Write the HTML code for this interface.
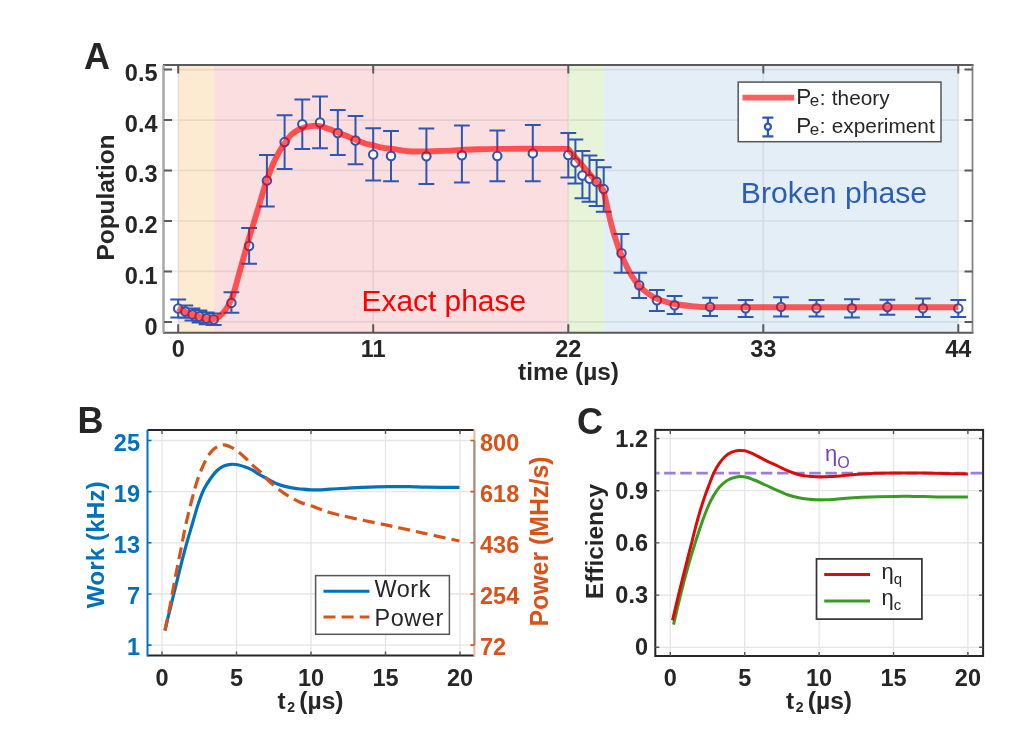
<!DOCTYPE html>
<html><head><meta charset="utf-8"><style>
html,body{margin:0;padding:0;background:#fff;}
svg{display:block;filter:blur(0.4px);}
text{font-family:"Liberation Sans", sans-serif;}
</style></head><body>
<svg width="1022" height="744" viewBox="0 0 1022 744">
<rect width="1022" height="744" fill="#fff"/>
<rect x="178.2" y="65.0" width="35.5" height="267.7" fill="#fcebd1"/>
<rect x="213.7" y="65.0" width="354.6" height="267.7" fill="#fbdee0"/>
<rect x="568.3" y="65.0" width="35.5" height="267.7" fill="#e7f4d8"/>
<rect x="603.7" y="65.0" width="354.6" height="267.7" fill="#e4eef6"/>
<path d="M178.2,65.0V332.7M373.2,65.0V332.7M568.3,65.0V332.7M763.3,65.0V332.7M958.3,65.0V332.7M164.0,321.9H972.5M164.0,271.4H972.5M164.0,221.0H972.5M164.0,170.5H972.5M164.0,120.1H972.5M164.0,69.6H972.5" stroke="#262626" stroke-opacity="0.085" stroke-width="1.6" fill="none"/>
<text x="443.8" y="310.5" font-size="29.9" fill="#ff0000" text-anchor="middle">Exact phase</text>
<text x="834" y="203" font-size="30.2" fill="#2c5fb4" text-anchor="middle">Broken phase</text>
<path d="M178.2,299.6V317.4M170.3,299.6H186.1M170.3,317.4H186.1M185.3,305.4V317.8M177.4,305.4H193.2M177.4,317.8H193.2M192.4,308.6V320.6M184.5,308.6H200.3M184.5,320.6H200.3M199.5,310.5V322.5M191.6,310.5H207.4M191.6,322.5H207.4M206.6,312.5V324.3M198.7,312.5H214.5M198.7,324.3H214.5M213.7,313.5V325.0M205.8,313.5H221.6M205.8,325.0H221.6M231.4,292.2V312.7M223.5,292.2H239.3M223.5,312.7H239.3M249.1,228.0V263.7M241.2,228.0H257.0M241.2,263.7H257.0M266.9,154.9V206.6M259.0,154.9H274.8M259.0,206.6H274.8M284.6,115.2V168.9M276.7,115.2H292.5M276.7,168.9H292.5M302.3,99.4V149.0M294.4,99.4H310.2M294.4,149.0H310.2M320.0,96.5V148.3M312.1,96.5H327.9M312.1,148.3H327.9M337.8,110.0V155.0M329.9,110.0H345.7M329.9,155.0H345.7M355.5,116.0V164.2M347.6,116.0H363.4M347.6,164.2H363.4M373.2,128.2V180.5M365.3,128.2H381.1M365.3,180.5H381.1M391.0,131.1V181.3M383.1,131.1H398.9M383.1,181.3H398.9M426.4,128.4V184.0M418.5,128.4H434.3M418.5,184.0H434.3M461.9,125.6V182.6M454.0,125.6H469.8M454.0,182.6H469.8M497.3,130.5V181.2M489.4,130.5H505.2M489.4,181.2H505.2M532.8,125.1V181.2M524.9,125.1H540.7M524.9,181.2H540.7M568.3,133.1V177.6M560.4,133.1H576.2M560.4,177.6H576.2M575.4,139.5V183.6M567.5,139.5H583.3M567.5,183.6H583.3M582.4,151.0V198.2M574.5,151.0H590.3M574.5,198.2H590.3M589.5,155.5V201.8M581.6,155.5H597.4M581.6,201.8H597.4M596.6,160.0V206.0M588.7,160.0H604.5M588.7,206.0H604.5M603.7,167.3V211.8M595.8,167.3H611.6M595.8,211.8H611.6M621.5,234.1V272.8M613.6,234.1H629.4M613.6,272.8H629.4M639.2,272.8V298.0M631.3,272.8H647.1M631.3,298.0H647.1M656.9,289.9V311.1M649.0,289.9H664.8M649.0,311.1H664.8M674.6,296.0V314.1M666.7,296.0H682.5M666.7,314.1H682.5M710.1,297.7V316.1M702.2,297.7H718.0M702.2,316.1H718.0M745.6,300.0V317.0M737.7,300.0H753.5M737.7,317.0H753.5M781.0,297.3V316.4M773.1,297.3H788.9M773.1,316.4H788.9M816.5,300.0V316.4M808.6,300.0H824.4M808.6,316.4H824.4M851.9,299.2V317.5M844.0,299.2H859.8M844.0,317.5H859.8M887.4,299.7V314.8M879.5,299.7H895.3M879.5,314.8H895.3M922.9,298.6V317.0M915.0,298.6H930.8M915.0,317.0H930.8M958.3,300.0V317.0M950.4,300.0H966.2M950.4,317.0H966.2" stroke="#2e56b2" stroke-width="2" fill="none"/>
<g fill="#fff" stroke="#2e56b2" stroke-width="2.1"><circle cx="178.2" cy="308.5" r="4.2"/><circle cx="185.3" cy="311.6" r="4.2"/><circle cx="192.4" cy="314.6" r="4.2"/><circle cx="199.5" cy="316.5" r="4.2"/><circle cx="206.6" cy="318.5" r="4.2"/><circle cx="213.7" cy="319.5" r="4.2"/><circle cx="231.4" cy="302.9" r="4.2"/><circle cx="249.1" cy="246.0" r="4.2"/><circle cx="266.9" cy="180.6" r="4.2"/><circle cx="284.6" cy="142.1" r="4.2"/><circle cx="302.3" cy="124.2" r="4.2"/><circle cx="320.0" cy="122.5" r="4.2"/><circle cx="337.8" cy="133.0" r="4.2"/><circle cx="355.5" cy="140.5" r="4.2"/><circle cx="373.2" cy="154.5" r="4.2"/><circle cx="391.0" cy="156.0" r="4.2"/><circle cx="426.4" cy="156.3" r="4.2"/><circle cx="461.9" cy="155.3" r="4.2"/><circle cx="497.3" cy="156.0" r="4.2"/><circle cx="532.8" cy="153.4" r="4.2"/><circle cx="568.3" cy="155.0" r="4.2"/><circle cx="575.4" cy="162.5" r="4.2"/><circle cx="582.4" cy="175.5" r="4.2"/><circle cx="589.5" cy="178.8" r="4.2"/><circle cx="596.6" cy="181.8" r="4.2"/><circle cx="603.7" cy="189.1" r="4.2"/><circle cx="621.5" cy="253.2" r="4.2"/><circle cx="639.2" cy="285.2" r="4.2"/><circle cx="656.9" cy="300.3" r="4.2"/><circle cx="674.6" cy="305.3" r="4.2"/><circle cx="710.1" cy="306.9" r="4.2"/><circle cx="745.6" cy="308.3" r="4.2"/><circle cx="781.0" cy="306.9" r="4.2"/><circle cx="816.5" cy="308.3" r="4.2"/><circle cx="851.9" cy="308.3" r="4.2"/><circle cx="887.4" cy="307.1" r="4.2"/><circle cx="922.9" cy="308.3" r="4.2"/><circle cx="958.3" cy="308.4" r="4.2"/></g>
<path d="M177.8,308.0 C179.0,308.6 182.6,310.5 184.9,311.6 C187.2,312.7 189.5,313.8 191.8,314.6 C194.1,315.4 196.6,315.9 198.9,316.5 C201.2,317.1 203.3,318.0 205.7,318.5 C208.1,319.0 211.9,319.3 213.1,319.5 C214.0,319.2 216.8,318.2 218.5,317.0 C220.2,315.8 221.7,314.4 223.3,312.6 C224.9,310.8 226.6,308.3 228.0,306.0 C229.4,303.7 230.4,301.7 231.5,299.0 C232.6,296.3 233.4,293.8 234.6,290.0 C235.8,286.2 237.2,280.6 238.4,276.3 C239.6,272.0 240.6,268.2 241.7,264.2 C242.8,260.2 244.0,256.0 245.1,252.1 C246.2,248.2 246.9,245.5 248.2,241.0 C249.5,236.5 251.4,230.6 253.1,225.0 C254.8,219.4 256.6,213.3 258.4,207.5 C260.1,201.7 262.2,194.7 263.6,190.0 C265.1,185.3 265.5,183.9 267.1,179.5 C268.7,175.1 271.1,168.4 273.2,163.7 C275.2,159.0 277.5,154.9 279.4,151.5 C281.3,148.1 282.6,146.0 284.7,143.2 C286.8,140.3 289.0,136.8 291.7,134.4 C294.4,132.0 298.0,129.9 301.1,128.5 C304.2,127.1 307.4,126.5 310.5,126.1 C313.6,125.7 316.8,125.6 319.9,126.1 C323.0,126.6 326.4,128.0 329.3,129.1 C332.2,130.2 334.6,131.4 337.5,132.6 C340.4,133.8 344.0,134.9 346.9,136.1 C349.8,137.3 352.2,138.4 355.1,139.6 C358.0,140.8 361.4,142.2 364.5,143.2 C367.6,144.2 370.8,144.7 373.9,145.5 C377.0,146.3 380.2,147.3 383.3,147.9 C386.4,148.5 388.6,148.4 392.7,149.0 C396.8,149.6 402.2,150.8 407.6,151.2 C413.0,151.6 419.3,151.4 425.2,151.4 C431.1,151.4 436.9,151.1 442.8,150.9 C448.7,150.7 454.5,150.3 460.4,150.0 C466.3,149.7 472.2,149.5 478.1,149.3 C484.0,149.1 487.1,149.0 495.7,148.9 C504.3,148.8 517.9,148.8 530.0,148.8 C542.1,148.8 561.8,148.9 568.1,148.9 L603.3,189.9 C603.7,191.7 604.8,196.2 605.8,200.5 C606.8,204.8 608.0,210.8 609.2,215.9 C610.4,221.1 611.7,226.2 613.2,231.4 C614.7,236.6 616.9,243.0 618.2,246.9 C619.6,250.8 620.2,252.0 621.3,254.6 C622.4,257.2 623.4,259.5 624.7,262.3 C626.0,265.1 627.5,268.5 629.3,271.6 C631.0,274.7 632.8,277.8 635.2,280.9 C637.6,284.0 640.9,287.6 643.7,290.2 C646.5,292.8 649.5,294.7 652.2,296.3 C654.9,297.9 656.2,298.7 660.0,300.0 C663.8,301.3 669.4,303.0 674.7,304.0 C680.0,305.0 685.8,305.6 691.8,306.1 C697.8,306.6 695.7,306.9 710.4,307.1 C725.1,307.3 738.7,307.3 780.0,307.3 C821.3,307.3 928.6,307.3 958.3,307.3" stroke="#ff0000" stroke-opacity="0.64" stroke-width="5.9" fill="none" stroke-linejoin="round" stroke-linecap="butt"/>
<path d="M163.0,65.0H973.5 M163.0,332.7H973.5" stroke="#5a5a5a" stroke-width="2" fill="none"/>
<path d="M163.5,65.0V332.7" stroke="#a5a5a5" stroke-width="2.4" fill="none"/>
<path d="M972.5,65.0V332.7" stroke="#858585" stroke-width="1.8" fill="none"/>
<path d="M178.2,65.0V73.5M178.2,332.7V324.2M373.2,65.0V73.5M373.2,332.7V324.2M568.3,65.0V73.5M568.3,332.7V324.2M763.3,65.0V73.5M763.3,332.7V324.2M958.3,65.0V73.5M958.3,332.7V324.2M164.0,321.9H172.0M972.5,321.9H964.5M164.0,271.4H172.0M972.5,271.4H964.5M164.0,221.0H172.0M972.5,221.0H964.5M164.0,170.5H172.0M972.5,170.5H964.5M164.0,120.1H172.0M972.5,120.1H964.5M164.0,69.6H172.0M972.5,69.6H964.5" stroke="#5a5a5a" stroke-width="2" fill="none"/>
<text x="178.2" y="356.5" font-size="23.5" font-weight="bold" fill="#262626" text-anchor="middle">0</text>
<text x="373.2" y="356.5" font-size="23.5" font-weight="bold" fill="#262626" text-anchor="middle">11</text>
<text x="568.3" y="356.5" font-size="23.5" font-weight="bold" fill="#262626" text-anchor="middle">22</text>
<text x="763.3" y="356.5" font-size="23.5" font-weight="bold" fill="#262626" text-anchor="middle">33</text>
<text x="958.3" y="356.5" font-size="23.5" font-weight="bold" fill="#262626" text-anchor="middle">44</text>
<text x="157.5" y="334.8" font-size="23.5" font-weight="bold" fill="#262626" text-anchor="end">0</text>
<text x="157.5" y="284.0" font-size="23.5" font-weight="bold" fill="#262626" text-anchor="end">0.1</text>
<text x="157.5" y="233.1" font-size="23.5" font-weight="bold" fill="#262626" text-anchor="end">0.2</text>
<text x="157.5" y="182.3" font-size="23.5" font-weight="bold" fill="#262626" text-anchor="end">0.3</text>
<text x="157.5" y="131.6" font-size="23.5" font-weight="bold" fill="#262626" text-anchor="end">0.4</text>
<text x="157.5" y="80.8" font-size="23.5" font-weight="bold" fill="#262626" text-anchor="end">0.5</text>
<text x="568.5" y="380.2" font-size="24.4" font-weight="bold" fill="#262626" text-anchor="middle">time (µs)</text>
<text transform="translate(114.2,197.5) rotate(-90)" font-size="24.4" font-weight="bold" fill="#262626" text-anchor="middle">Population</text>
<text x="84" y="68.5" font-size="36" font-weight="bold" fill="#262626">A</text>
<rect x="738.2" y="82.1" width="202.8" height="59.6" fill="#fff" stroke="#555" stroke-width="1.5"/>
<path d="M742.5,97.6H794.2" stroke="#ff0000" stroke-opacity="0.64" stroke-width="5.9"/>
<path d="M767.9,117.6V136.4M762.4,117.6H773.4M762.4,136.4H773.4" stroke="#2e56b2" stroke-width="2.2"/>
<circle cx="767.9" cy="126.7" r="3.0" fill="#fff" stroke="#2e56b2" stroke-width="2.3"/>
<text x="796.3" y="104.3" font-size="22.5" fill="#262626">P</text>
<text x="809.8" y="106.1" font-size="17" fill="#262626">e</text>
<text x="819.8" y="104.7" font-size="20.5" fill="#262626">:</text>
<text x="831.8" y="104.8" font-size="20.8" fill="#262626">theory</text>
<text x="796.3" y="132.8" font-size="22.5" fill="#262626">P</text>
<text x="809.8" y="134.6" font-size="17" fill="#262626">e</text>
<text x="819.8" y="133.2" font-size="20.5" fill="#262626">:</text>
<text x="831.8" y="133.3" font-size="20.8" fill="#262626">experiment</text>
<path d="M162.0,429.9V655.6M236.5,429.9V655.6M311.0,429.9V655.6M385.5,429.9V655.6M460.0,429.9V655.6M147.5,645.1H474.4M147.5,594.0H474.4M147.5,542.8H474.4M147.5,491.6H474.4M147.5,440.5H474.4" stroke="#262626" stroke-opacity="0.12" stroke-width="1.3" fill="none"/>
<path d="M164.9,630.5 C165.8,626.7 168.6,615.2 170.5,607.5 C172.4,599.8 173.8,593.7 176.1,584.5 C178.4,575.3 181.3,563.1 184.2,552.3 C187.1,541.5 191.2,527.9 193.6,519.5 C196.0,511.1 197.0,507.3 198.8,502.2 C200.6,497.1 202.2,492.8 204.2,488.8 C206.2,484.8 208.7,481.1 210.9,478.0 C213.1,474.9 215.3,472.1 217.6,470.0 C219.8,467.9 222.2,466.6 224.4,465.7 C226.7,464.8 228.9,464.4 231.1,464.3 C233.3,464.2 235.3,464.3 237.8,464.8 C240.3,465.3 243.4,466.4 245.9,467.3 C248.4,468.2 250.5,469.1 252.6,470.2 C254.7,471.3 256.2,472.7 258.7,474.2 C261.2,475.7 264.6,477.5 267.5,479.0 C270.4,480.5 273.3,482.2 276.2,483.4 C279.1,484.6 282.0,485.6 284.9,486.4 C287.8,487.2 290.8,487.7 293.7,488.2 C296.6,488.7 299.5,488.9 302.4,489.2 C305.3,489.5 308.2,489.7 311.1,489.8 C314.0,489.9 316.8,489.9 319.9,489.8 C323.0,489.7 323.1,489.6 330.0,489.2 C336.9,488.8 351.9,487.8 361.6,487.4 C371.3,487.0 380.2,486.7 388.1,486.6 C396.0,486.5 402.8,486.5 409.2,486.6 C415.6,486.7 418.4,487.1 426.8,487.2 C435.2,487.3 454.0,487.3 459.4,487.3" stroke="#0072bd" stroke-width="3.2" fill="none"/>
<path d="M164.8,631.5 C165.7,627.2 168.1,615.7 170.0,606.0 C171.9,596.3 174.2,582.9 176.1,573.2 C178.0,563.5 179.4,556.7 181.2,548.0 C182.9,539.3 184.3,530.9 186.6,521.0 C188.9,511.1 192.5,496.9 194.8,488.8 C197.1,480.7 198.3,477.5 200.2,472.6 C202.1,467.7 204.1,463.0 206.2,459.2 C208.3,455.4 210.6,452.1 212.9,449.8 C215.2,447.5 218.2,446.3 220.3,445.5 C222.4,444.7 223.7,444.7 225.7,445.1 C227.7,445.5 230.2,446.6 232.4,447.8 C234.7,449.0 236.9,450.7 239.2,452.5 C241.4,454.3 243.7,456.4 245.9,458.5 C248.1,460.6 250.2,462.9 252.6,465.2 C255.0,467.4 257.7,469.3 260.5,472.0 C263.3,474.7 265.4,477.8 269.2,481.2 C273.0,484.6 278.2,489.2 283.2,492.6 C288.1,496.0 293.5,499.2 298.9,501.7 C304.3,504.2 310.6,505.6 315.5,507.4 C320.4,509.1 322.4,510.4 328.6,512.2 C334.8,514.0 342.9,515.9 352.8,518.1 C362.7,520.3 376.4,522.9 388.1,525.4 C399.9,527.9 411.4,530.5 423.3,533.1 C435.2,535.7 453.4,539.7 459.4,541.0" stroke="#d95319" stroke-width="3.2" fill="none" stroke-dasharray="12 6.1" stroke-dashoffset="-1.3"/>
<path d="M147.5,429.9H474.4 M147.5,655.6H474.4" stroke="#262626" stroke-width="2" fill="none"/>
<path d="M147.5,429.9V656.6" stroke="#0072bd" stroke-width="2" fill="none"/>
<path d="M474.4,428.9V656.6" stroke="#f4b49a" stroke-width="2" fill="none"/>
<path d="M474.4,440.5V645.1" stroke="#a68a86" stroke-width="2" fill="none"/>
<path d="M162.0,429.9V433.9M162.0,655.6V651.6M236.5,429.9V433.9M236.5,655.6V651.6M311.0,429.9V433.9M311.0,655.6V651.6M385.5,429.9V433.9M385.5,655.6V651.6M460.0,429.9V433.9M460.0,655.6V651.6" stroke="#555" stroke-width="1.4" fill="none"/>
<path d="M147.5,645.1H151.5M147.5,594.0H151.5M147.5,542.8H151.5M147.5,491.6H151.5M147.5,440.5H151.5" stroke="#0072bd" stroke-width="1.6" fill="none"/>
<path d="M474.4,645.1H470.4M474.4,594.0H470.4M474.4,542.8H470.4M474.4,491.6H470.4M474.4,440.5H470.4" stroke="#d95319" stroke-width="1.6" fill="none"/>
<text x="162.0" y="685.8" font-size="23.5" font-weight="bold" fill="#262626" text-anchor="middle">0</text>
<text x="236.5" y="685.8" font-size="23.5" font-weight="bold" fill="#262626" text-anchor="middle">5</text>
<text x="311.0" y="685.8" font-size="23.5" font-weight="bold" fill="#262626" text-anchor="middle">10</text>
<text x="385.5" y="685.8" font-size="23.5" font-weight="bold" fill="#262626" text-anchor="middle">15</text>
<text x="460.0" y="685.8" font-size="23.5" font-weight="bold" fill="#262626" text-anchor="middle">20</text>
<text x="140" y="655.4" font-size="23.5" font-weight="bold" fill="#0072bd" text-anchor="end">1</text>
<text x="140" y="604.2" font-size="23.5" font-weight="bold" fill="#0072bd" text-anchor="end">7</text>
<text x="140" y="553.1" font-size="23.5" font-weight="bold" fill="#0072bd" text-anchor="end">13</text>
<text x="140" y="501.9" font-size="23.5" font-weight="bold" fill="#0072bd" text-anchor="end">19</text>
<text x="140" y="450.8" font-size="23.5" font-weight="bold" fill="#0072bd" text-anchor="end">25</text>
<text x="480" y="655.4" font-size="23.5" font-weight="bold" fill="#d95319">72</text>
<text x="480" y="604.2" font-size="23.5" font-weight="bold" fill="#d95319">254</text>
<text x="480" y="553.1" font-size="23.5" font-weight="bold" fill="#d95319">436</text>
<text x="480" y="501.9" font-size="23.5" font-weight="bold" fill="#d95319">618</text>
<text x="480" y="450.8" font-size="23.5" font-weight="bold" fill="#d95319">800</text>
<text x="277.6" y="708.8" font-size="24.4" font-weight="bold" fill="#262626">t</text>
<text x="287.2" y="712" font-size="14" font-weight="bold" fill="#262626">2</text>
<text x="299.3" y="708.8" font-size="24.6" font-weight="bold" fill="#262626">(µs)</text>
<text transform="translate(104.1,544.8) rotate(-90)" font-size="24.4" font-weight="bold" fill="#0072bd" text-anchor="middle">Work (kHz)</text>
<text transform="translate(548.2,541.5) rotate(-90)" font-size="24.9" font-weight="bold" fill="#d95319" text-anchor="middle">Power (MHz/s)</text>
<text x="77.6" y="433.3" font-size="36" font-weight="bold" fill="#262626">B</text>
<rect x="315.6" y="575.6" width="133.8" height="58.7" fill="#fff" stroke="#555" stroke-width="1.5"/>
<path d="M323.5,591.3H369.4" stroke="#0072bd" stroke-width="3"/>
<path d="M323.5,617H369.4" stroke="#d95319" stroke-width="3" stroke-dasharray="12 6.1"/>
<text x="374.5" y="596.6" font-size="23.4" letter-spacing="0.6" fill="#262626">Work</text>
<text x="374.5" y="625.7" font-size="23.4" letter-spacing="0.6" fill="#262626">Power</text>
<path d="M670.3,429.9V656.0M744.7,429.9V656.0M819.1,429.9V656.0M893.5,429.9V656.0M967.9,429.9V656.0M655.3,647.3H983.1M655.3,595.1H983.1M655.3,542.9H983.1M655.3,490.7H983.1M655.3,438.5H983.1" stroke="#262626" stroke-opacity="0.12" stroke-width="1.3" fill="none"/>
<path d="M656.3,473.1H982.1" stroke="#9b7fd4" stroke-width="2.6" stroke-dasharray="11.5 4.63" stroke-dashoffset="8.33" fill="none"/>
<path d="M673.5,624.6 C674.7,619.6 678.3,604.1 680.7,594.4 C683.1,584.7 685.5,575.6 688.0,566.6 C690.5,557.6 693.8,547.1 696.0,540.2 C698.2,533.3 699.2,530.3 701.0,525.2 C702.8,520.1 705.1,513.7 706.8,509.5 C708.5,505.3 709.4,503.3 711.0,500.2 C712.6,497.1 714.6,493.6 716.6,490.8 C718.6,488.0 720.8,485.3 723.2,483.3 C725.6,481.3 728.1,479.7 730.8,478.6 C733.5,477.5 736.5,476.7 739.2,476.5 C741.9,476.3 744.3,476.6 746.8,477.2 C749.3,477.8 751.6,478.9 754.3,480.0 C757.0,481.1 760.2,482.6 762.8,483.8 C765.4,485.0 767.5,486.0 770.0,487.1 C772.5,488.2 775.2,489.4 777.8,490.6 C780.4,491.8 783.1,493.1 785.7,494.1 C788.3,495.1 790.9,495.8 793.5,496.5 C796.1,497.2 798.7,497.8 801.3,498.2 C803.9,498.6 806.5,498.9 809.1,499.2 C811.7,499.5 814.4,499.7 817.0,499.8 C819.6,499.9 822.2,499.9 824.8,499.8 C827.4,499.8 830.0,499.7 832.6,499.5 C835.2,499.3 835.7,499.2 840.5,498.8 C845.3,498.4 852.5,497.7 861.6,497.3 C870.7,496.9 886.6,496.5 895.1,496.4 C903.6,496.2 905.7,496.3 912.7,496.4 C919.8,496.5 928.2,496.8 937.4,496.9 C946.6,497.0 962.8,496.9 967.9,496.9" stroke="#3a9b22" stroke-width="3" fill="none"/>
<path d="M672.5,620.4 C673.7,615.5 677.1,600.6 679.5,590.8 C681.9,581.0 684.8,569.9 686.8,561.8 C688.8,553.7 690.2,548.5 691.8,542.4 C693.3,536.3 694.6,530.9 696.1,525.2 C697.6,519.5 699.4,513.3 701.0,508.0 C702.6,502.7 704.3,497.7 705.8,493.5 C707.3,489.3 708.5,486.4 709.8,483.0 C711.1,479.6 712.2,476.2 713.8,472.9 C715.4,469.6 717.6,465.8 719.5,463.1 C721.4,460.4 723.1,458.3 725.1,456.5 C727.1,454.7 729.5,453.2 731.7,452.2 C733.9,451.2 736.1,450.7 738.3,450.5 C740.5,450.3 742.7,450.4 744.9,450.8 C747.1,451.2 749.1,452.2 751.5,453.2 C753.9,454.2 756.5,455.6 759.0,456.9 C761.5,458.2 763.4,459.3 766.5,460.8 C769.6,462.3 774.6,464.5 777.8,466.0 C781.0,467.5 783.1,468.7 785.7,469.9 C788.3,471.1 790.9,472.1 793.5,473.0 C796.1,473.9 798.7,474.6 801.3,475.2 C803.9,475.8 806.5,476.0 809.1,476.3 C811.7,476.6 814.4,476.7 817.0,476.8 C819.6,476.9 822.2,476.9 824.8,476.8 C827.4,476.8 830.0,476.6 832.6,476.5 C835.2,476.4 837.1,476.3 840.5,476.0 C843.9,475.7 847.2,475.2 852.8,474.8 C858.4,474.4 867.0,473.6 874.0,473.3 C881.0,473.0 886.9,473.0 895.1,473.0 C903.3,473.0 911.2,473.0 923.3,473.1 C935.4,473.2 960.5,473.8 967.9,473.9" stroke="#dd0a0a" stroke-width="3" fill="none"/>
<text x="825" y="461" font-size="22" fill="#7343b3">η<tspan font-size="16" dy="6.8">O</tspan></text>
<rect x="655.3" y="429.9" width="327.8" height="226.1" fill="none" stroke="#262626" stroke-width="2"/>
<path d="M670.3,429.9V433.9M670.3,656.0V652.0M744.7,429.9V433.9M744.7,656.0V652.0M819.1,429.9V433.9M819.1,656.0V652.0M893.5,429.9V433.9M893.5,656.0V652.0M967.9,429.9V433.9M967.9,656.0V652.0M655.3,647.3H659.3M983.1,647.3H979.1M655.3,595.1H659.3M983.1,595.1H979.1M655.3,542.9H659.3M983.1,542.9H979.1M655.3,490.7H659.3M983.1,490.7H979.1M655.3,438.5H659.3M983.1,438.5H979.1" stroke="#555" stroke-width="1.4" fill="none"/>
<text x="670.3" y="685.8" font-size="23.5" font-weight="bold" fill="#262626" text-anchor="middle">0</text>
<text x="744.7" y="685.8" font-size="23.5" font-weight="bold" fill="#262626" text-anchor="middle">5</text>
<text x="819.1" y="685.8" font-size="23.5" font-weight="bold" fill="#262626" text-anchor="middle">10</text>
<text x="893.5" y="685.8" font-size="23.5" font-weight="bold" fill="#262626" text-anchor="middle">15</text>
<text x="967.9" y="685.8" font-size="23.5" font-weight="bold" fill="#262626" text-anchor="middle">20</text>
<text x="648" y="655.4" font-size="23.5" font-weight="bold" fill="#262626" text-anchor="end">0</text>
<text x="648" y="603.2" font-size="23.5" font-weight="bold" fill="#262626" text-anchor="end">0.3</text>
<text x="648" y="551.0" font-size="23.5" font-weight="bold" fill="#262626" text-anchor="end">0.6</text>
<text x="648" y="498.8" font-size="23.5" font-weight="bold" fill="#262626" text-anchor="end">0.9</text>
<text x="648" y="446.6" font-size="23.5" font-weight="bold" fill="#262626" text-anchor="end">1.2</text>
<text x="786.1" y="708.8" font-size="24.4" font-weight="bold" fill="#262626">t</text>
<text x="795.7" y="712" font-size="14" font-weight="bold" fill="#262626">2</text>
<text x="807.8" y="708.8" font-size="24.6" font-weight="bold" fill="#262626">(µs)</text>
<text transform="translate(602.7,541.5) rotate(-90)" font-size="24.4" font-weight="bold" fill="#262626" text-anchor="middle">Efficiency</text>
<text x="577" y="434" font-size="36" font-weight="bold" fill="#262626">C</text>
<rect x="816.5" y="558.9" width="105.4" height="60.2" fill="#fff" stroke="#333" stroke-width="1.7"/>
<path d="M824.2,574.4H870" stroke="#dd0a0a" stroke-width="3"/>
<path d="M824.2,601.1H870" stroke="#3a9b22" stroke-width="3"/>
<text x="881.5" y="578.5" font-size="22" fill="#262626">η<tspan font-size="15" dy="5.5">q</tspan></text>
<text x="881.5" y="604.6" font-size="22" fill="#262626">η<tspan font-size="15" dy="5.5">c</tspan></text>
</svg>
</body></html>
